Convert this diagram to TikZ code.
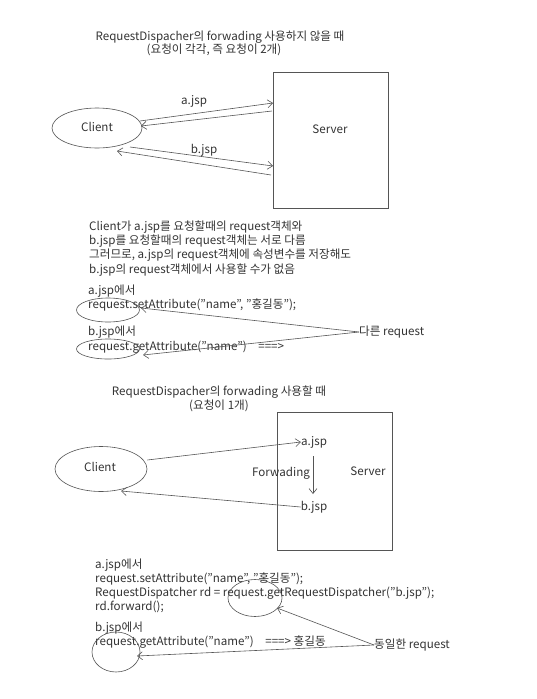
\documentclass[tikz,border=0pt]{standalone}
\usepackage{fontspec}
\setmainfont{Noto Sans CJK KR}
\usetikzlibrary{arrows.meta,shapes.geometric}
\definecolor{ink}{HTML}{333333}
\definecolor{lineink}{HTML}{555555}
\tikzset{
  txt/.style={anchor=west,inner sep=0pt,font=\fontsize{11.6}{13}\selectfont,text=ink},
  ctxt/.style={inner sep=0pt,font=\fontsize{11.6}{13}\selectfont,text=ink},
  oval/.style={draw=lineink,ellipse,line width=0.6pt,inner sep=0pt},
  box/.style={draw=lineink,line width=0.6pt,inner sep=0pt},
  arr/.style={draw=lineink,line width=0.6pt,-{Straight Barb[length=5pt,width=8pt]}},
}
\begin{document}
\begin{tikzpicture}[x=1pt,y=-1pt]
\useasboundingbox[fill=white] (0,0) rectangle (537,699);

% ---------- section 1 ----------
\node[ctxt] (t1) at (220,37) {RequestDispacher의 forwading 사용하지 않을 때};
\node[ctxt] (t1b) at (214,50) {(요청이 각각, 즉 요청이 2개)};

\node[oval,minimum width=90pt,minimum height=40pt] (c1) at (97,128) {};
\node[ctxt] (c1l) at (97,127) {Client};
\node[box,minimum width=115pt,minimum height=136pt] (s1) at (330.5,140) {};
\node[ctxt] (s1l) at (330,129) {Server};

\coordinate (a1s) at (140,121);
\coordinate (a1e) at (273,103);
\coordinate (a2s) at (272,111);
\coordinate (a2e) at (141,126);
\coordinate (b1s) at (130,147);
\coordinate (b1e) at (273,166);
\coordinate (b2s) at (271,175);
\coordinate (b2e) at (117,151);
\draw[arr] (a1s) -- (a1e);
\draw[arr] (a2s) -- (a2e);
\draw[arr] (b1s) -- (b1e);
\draw[arr] (b2s) -- (b2e);
\node[ctxt] (la) at (194,101) {a.jsp};
\node[ctxt] (lb) at (204,150) {b.jsp};

% ---------- section 2 ----------
\node[txt] (p1) at (89,227) {Client가 a.jsp를 요청할때의 request객체와};
\node[txt] (p2) at (89,241) {b.jsp를 요청할때의 request객체는 서로 다름};
\node[txt] (p3) at (89,255) {그러므로, a.jsp의 request객체에 속성변수를 저장해도};
\node[txt] (p4) at (89,270) {b.jsp의 request객체에서 사용할 수가 없음};

\node[txt] (q1) at (88,291) {a.jsp에서};
\node[txt] (q2) at (88,305) {request.setAttribute("name", "홍길동");};
\node[txt] (q3) at (88,332) {b.jsp에서};
\node[txt] (q4) at (88,347) {request.getAttribute("name")\quad ===>};

\node[oval,minimum width=63pt,minimum height=24pt] (e1) at (108,310) {};
\node[oval,minimum width=63pt,minimum height=20pt] (e2) at (108,349) {};
\node[txt] (dr) at (359,332) {다른 request};
\draw[arr] (dr.west) -- (141,308);
\draw[arr] (dr.west) -- (143,355);

% ---------- section 3 ----------
\node[ctxt] (t3) at (219,392) {RequestDispacher의 forwading 사용할 때};
\node[ctxt] (t3b) at (219,406) {(요청이 1개)};

\node[oval,minimum width=92pt,minimum height=45pt] (c3) at (101,469) {};
\node[ctxt] (c3l) at (100,467) {Client};
\node[box,minimum width=115pt,minimum height=138pt] (s3) at (334.5,481) {};
\node[ctxt] (s3l) at (368,471) {Server};
\node[ctxt] (ja) at (314,442) {a.jsp};
\node[ctxt] (jb) at (314,507) {b.jsp};
\node[ctxt] (fw) at (281,473) {Forwading};
\draw[arr] (313,456) -- (313,494);
\draw[arr] (c3.east |- 0,460) -- (ja.west);
\draw[arr] (jb.west) -- (121,491);

% ---------- section 4 ----------
\node[txt] (r1) at (95,565) {a.jsp에서};
\node[txt] (r2) at (95,579) {request.setAttribute("name", "홍길동");};
\node[txt] (r3) at (95,593) {RequestDispatcher rd = request.getRequestDispatcher("b.jsp");};
\node[txt] (r4) at (95,607) {rd.forward();};
\node[txt] (r5) at (95,628) {b.jsp에서};
\node[txt] (r6) at (95,642) {request.getAttribute("name")\quad ===> 홍길동};

\node[oval,minimum width=54pt,minimum height=37pt] (e3) at (255,598) {};
\node[oval,minimum width=48pt,minimum height=40pt] (e4) at (116,652) {};
\node[txt] (sr) at (374,645) {동일한 request};
\draw[arr] (sr.west) -- (277,608);
\draw[arr] (sr.west) -- (137,656);
\end{tikzpicture}
\end{document}
